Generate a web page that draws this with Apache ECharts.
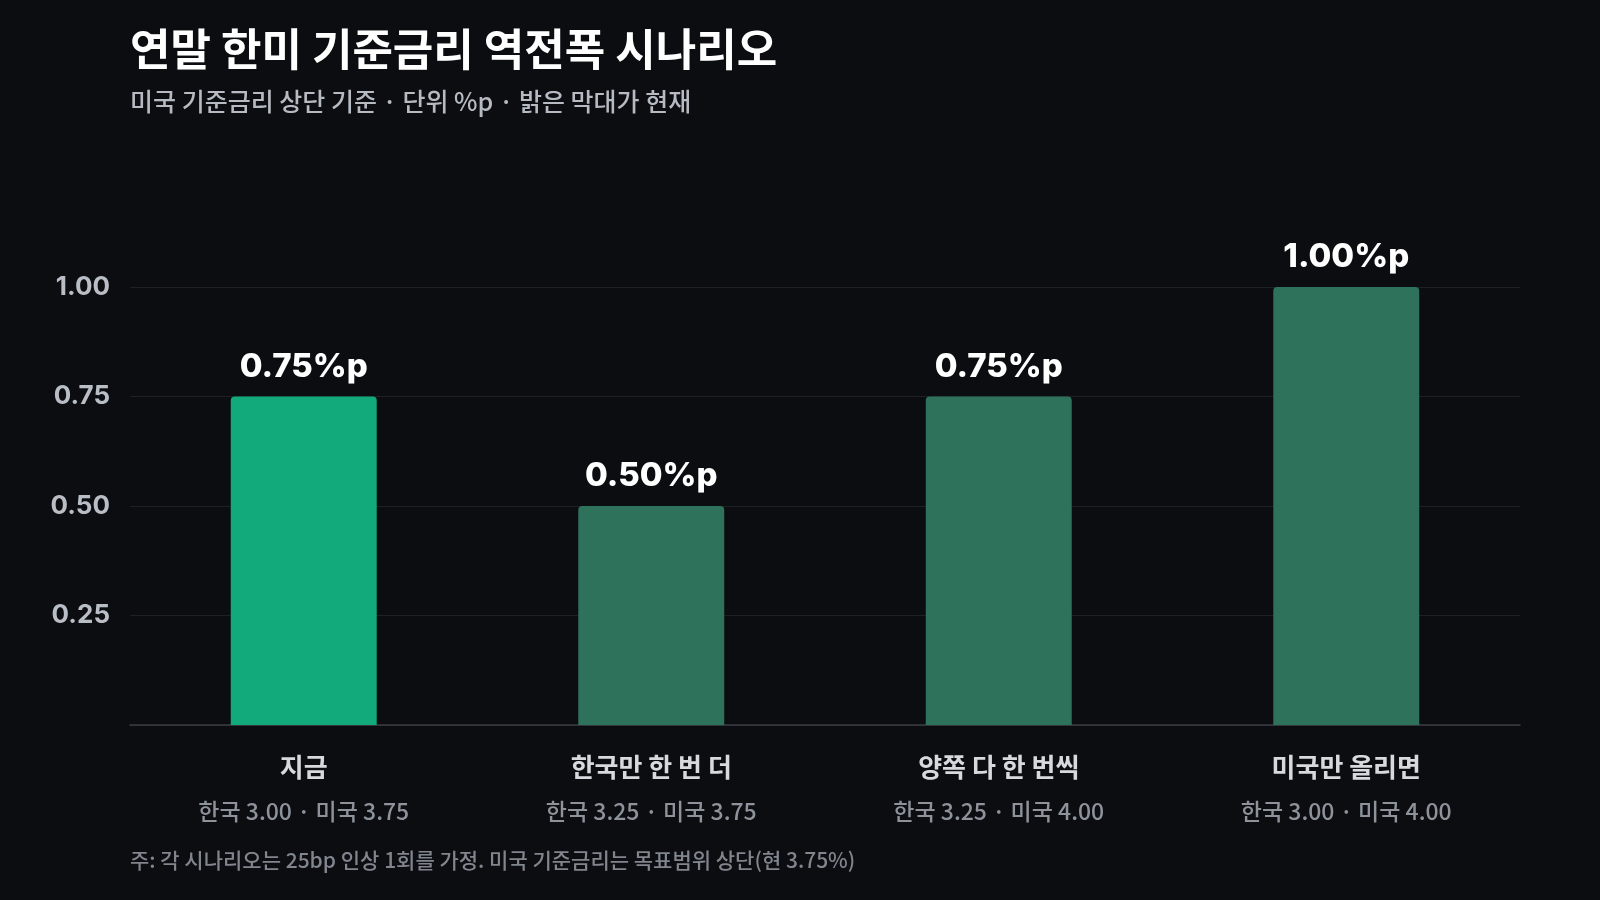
<!DOCTYPE html>
<html>
<head>
<meta charset="utf-8">
<script src="https://cdn.jsdelivr.net/npm/echarts@6/dist/echarts.min.js"></script>
<style>
html,body{margin:0;padding:0;background:#0b0d11;}
#c{width:1600px;height:900px;}
</style>
</head>
<body>
<div id="c"></div>
<script>
const titleText = '연말 한미 기준금리 역전폭 시나리오';
const subtitleText = '미국 기준금리 상단 기준 · 단위 %p · 밝은 막대가 현재';
const footnoteText = '주: 각 시나리오는 25bp 인상 1회를 가정. 미국 기준금리는 목표범위 상단(현 3.75%)';
const categories = ['지금', '한국만 한 번 더', '양쪽 다 한 번씩', '미국만 올리면'];
const subLabels = ['한국 3.00 · 미국 3.75', '한국 3.25 · 미국 3.75', '한국 3.25 · 미국 4.00', '한국 3.00 · 미국 4.00'];
const gapValues = [0.75, 0.50, 0.75, 1.00];
const currentIndex = 0;
const yTicks = [0.25, 0.50, 0.75, 1.00];

const KR = '"Noto Sans CJK KR", "Noto Sans", sans-serif';
const NUM = 'Inter, "Noto Sans", sans-serif';

const chart = echarts.init(document.getElementById('c'), null, {renderer: 'canvas'});
chart.setOption({
  backgroundColor: '#0b0d11',
  animation: false,
  grid: {left: 130, right: 80, top: 287, bottom: 175, containLabel: false},
  graphic: [
    {type: 'text', left: 130, top: 27, style: {text: titleText, fill: '#ffffff', font: 'bold 44px ' + KR}},
    {type: 'text', left: 130, top: 89, style: {text: subtitleText, fill: '#b6bac2', font: '500 25px ' + KR}},
    {type: 'text', left: 130, top: 850, style: {text: footnoteText, fill: '#80858e', font: '500 21px ' + KR}}
  ],
  xAxis: {
    type: 'category',
    data: categories,
    axisLine: {show: true, lineStyle: {color: '#3a3d44', width: 1.5}},
    axisTick: {show: false},
    axisLabel: {
      interval: 0,
      margin: 20,
      formatter: function (v, i) { return '{a|' + v + '}\n{b|' + subLabels[i] + '}'; },
      rich: {
        a: {fontFamily: KR, fontWeight: 'bold', fontSize: 26, color: '#d6d9de', lineHeight: 44},
        b: {fontFamily: KR, fontWeight: 500, fontSize: 23, color: '#8d929b', lineHeight: 44}
      }
    }
  },
  yAxis: {
    type: 'value',
    min: 0,
    max: 1,
    interval: 0.25,
    axisLine: {show: false},
    axisTick: {show: false},
    splitLine: {show: true, lineStyle: {color: '#1d2026', width: 1}},
    axisLabel: {
      margin: 20,
      showMinLabel: false,
      fontFamily: NUM,
      fontWeight: 'bold',
      fontSize: 26,
      color: '#b9bdc5',
      formatter: function (v) { return yTicks.indexOf(v) >= 0 ? v.toFixed(2) : ''; }
    }
  },
  series: [{
    type: 'bar',
    barWidth: '42%',
    data: gapValues.map(function (v, i) {
      return {value: v, itemStyle: {color: i === currentIndex ? '#12aa7b' : '#2e725b', borderRadius: [4, 4, 0, 0]}};
    }),
    label: {
      show: true,
      position: 'top',
      distance: 13,
      fontFamily: NUM,
      fontWeight: 800,
      fontSize: 33,
      color: '#ffffff',
      formatter: function (p) { return p.value.toFixed(2) + '%p'; }
    }
  }]
});
</script>
</body>
</html>
